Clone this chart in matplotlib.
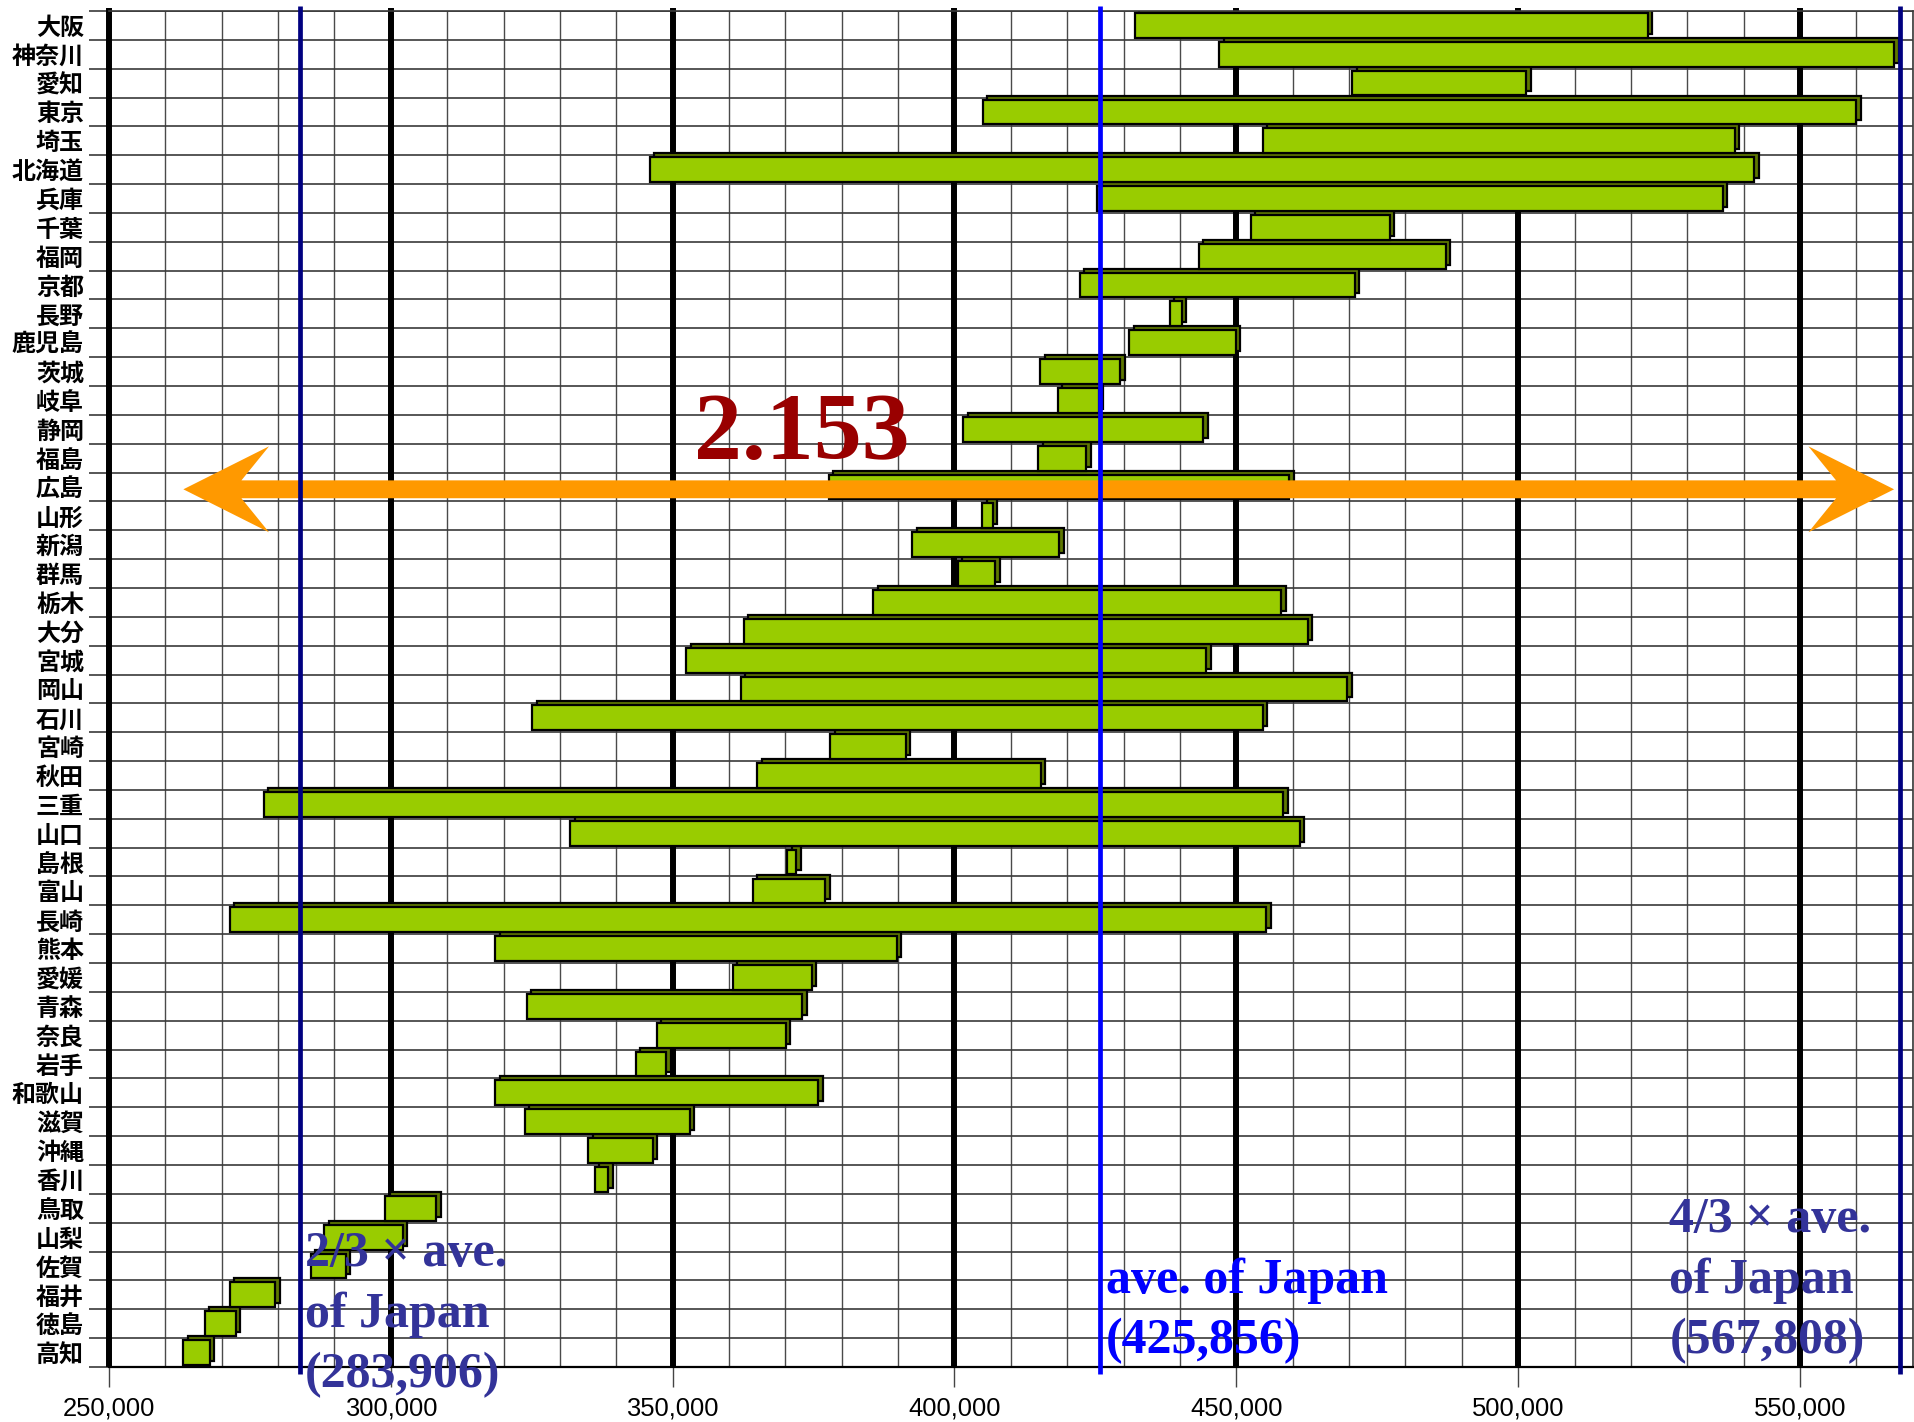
import numpy as np
import matplotlib
matplotlib.use("Agg")
from matplotlib import pyplot as plt
from matplotlib.patches import Polygon
from matplotlib.ticker import MultipleLocator, NullFormatter
from matplotlib.transforms import ScaledTranslation, blended_transform_factory

plt.rcParams["font.family"] = ["Noto Sans CJK JP", "DejaVu Sans"]

# Prefectures from top to bottom, with the low / high end of each range (yen).
prefectures = [
    "大阪", "神奈川", "愛知", "東京", "埼玉", "北海道", "兵庫", "千葉", "福岡", "京都",
    "長野", "鹿児島", "茨城", "岐阜", "静岡", "福島", "広島", "山形", "新潟", "群馬",
    "栃木", "大分", "宮城", "岡山", "石川", "宮崎", "秋田", "三重", "山口", "島根",
    "富山", "長崎", "熊本", "愛媛", "青森", "奈良", "岩手", "和歌山", "滋賀", "沖縄",
    "香川", "鳥取", "山梨", "佐賀", "福井", "徳島", "高知",
]
low = [
    432000, 447000, 470600, 405000, 454700, 345900, 425300, 452600, 443300, 422200,
    438200, 431000, 415200, 418300, 401600, 414900, 377700, 404900, 392500, 400600,
    385600, 362600, 352400, 362100, 325100, 378000, 365000, 277500, 331800, 370300,
    364200, 271400, 318500, 360700, 324100, 347200, 343500, 318500, 323800, 335000,
    336200, 299000, 288200, 285800, 271400, 267000, 263200,
]
high = [
    523000, 566700, 501400, 560000, 538400, 541900, 536300, 477200, 487200, 471000,
    440300, 449900, 429400, 425600, 444100, 423400, 459400, 406800, 418600, 407200,
    458000, 462700, 444700, 469700, 454700, 391400, 415300, 458300, 461300, 371900,
    377100, 455300, 389800, 374700, 373000, 370100, 348900, 375800, 353000, 346500,
    338600, 308100, 302100, 292000, 279500, 272500, 267900,
]

ave_japan = 425856
ave_two_thirds = 283906
ave_four_thirds = 567808

x_ticks = [250000, 300000, 350000, 400000, 450000, 500000, 550000]

FACE = "#99cc00"
DEPTH = "#5e7800"
NAVY = "#000080"
SLATE = "#333399"

fig = plt.figure(figsize=(19.15, 14.22), dpi=100)
ax = fig.add_axes([0.0569, 0.0387, 0.9419, 0.9536])

low = np.array(low)
high = np.array(high)
y = np.arange(len(prefectures))

# Bars with a small extruded edge drawn behind them.
depth = ScaledTranslation(0.045, 0.04, fig.dpi_scale_trans)
back = ax.barh(y, high - low, left=low, height=0.86, color=DEPTH,
               edgecolor="black", linewidth=1.6, zorder=2)
for patch in back:
    patch.set_transform(ax.transData + depth)
ax.barh(y, high - low, left=low, height=0.86, color=FACE,
        edgecolor="black", linewidth=1.6, zorder=3)

ax.set_xlim(250000, 570000)
ax.set_ylim(len(prefectures) - 0.5, -0.5)

# Grid: thin lines every 10,000 and at every row boundary, heavy lines every 50,000.
ax.set_xticks(x_ticks, labels=[f"{v:,}" for v in x_ticks])
ax.xaxis.set_minor_locator(MultipleLocator(10000))
ax.set_yticks(np.arange(-0.5, len(prefectures)))
ax.yaxis.set_major_formatter(NullFormatter())
ax.set_yticks(y, labels=prefectures, minor=True)
ax.grid(axis="x", which="minor", color="#4a4a4a", linewidth=1.0, zorder=0)
ax.grid(axis="y", which="major", color="#3a3a3a", linewidth=1.2, zorder=0)
ax.set_axisbelow(True)
ax.vlines(x_ticks, -0.6, len(prefectures) - 0.5, color="black", linewidth=4.3,
          zorder=1, clip_on=False)

ax.tick_params(axis="x", which="major", length=14.4, width=1.0, color="#444444",
               labelsize=18.4, pad=7)
ax.tick_params(axis="x", which="minor", length=0)
ax.tick_params(axis="y", which="major", length=14.4, width=1.2, color="#3a3a3a")
ax.tick_params(axis="y", which="minor", length=0, pad=18, labelsize=17.3)
for lbl in ax.get_xticklabels():
    lbl.set_fontfamily("Liberation Sans")
for lbl in ax.get_yticklabels(minor=True):
    lbl.set_fontweight("bold")

for side in ("top", "right"):
    ax.spines[side].set_color("#3a3a3a")
    ax.spines[side].set_linewidth(1.2)
ax.spines["bottom"].set_linewidth(1.6)
ax.spines["left"].set_visible(False)

# Double arrow spanning the lowest to the highest value.
x_min, x_max = low.min(), high.max()
yc = prefectures.index("広島") + 0.08
head_len, notch, head_half, shaft_half = 15200, 10300, 1.49, 0.31
arrow = Polygon([
    (x_min, yc),
    (x_min + head_len, yc - head_half),
    (x_min + notch, yc - shaft_half),
    (x_max - notch, yc - shaft_half),
    (x_max - head_len, yc - head_half),
    (x_max, yc),
    (x_max - head_len, yc + head_half),
    (x_max - notch, yc + shaft_half),
    (x_min + notch, yc + shaft_half),
    (x_min + head_len, yc + head_half),
], closed=True, facecolor="#ff9900", edgecolor="none", zorder=4, clip_on=False)
ax.add_patch(arrow)

ax.text(373000, 15.04, f"{x_max / x_min:.3f}", fontsize=69, color="#990000",
        fontweight="bold", family="Liberation Serif", ha="center", va="baseline",
        zorder=6)

# Reference lines for the national average and 2/3, 4/3 of it.
for value, color in ((ave_two_thirds, NAVY), (ave_japan, "#0000ff"),
                     (ave_four_thirds, NAVY)):
    ax.vlines(value, -0.67, len(prefectures) - 0.26, color=color, linewidth=3.4,
              zorder=5, clip_on=False)

blend = blended_transform_factory(ax.transData, ax.transAxes)


def shifted(px):
    return blend + ScaledTranslation(px / 100, 0, fig.dpi_scale_trans)


# va="baseline" anchors the last line of each block.
label_style = dict(fontsize=36, fontweight="bold", va="baseline", ha="left",
                   family=["Liberation Serif", "Noto Sans CJK JP"],
                   linespacing=1.4, zorder=6)
ax.text(ave_two_thirds, -0.0147, f"2/3 × ave.\nof Japan\n({ave_two_thirds:,})",
        transform=shifted(5), color=SLATE, **label_style)
ax.text(ave_japan, 0.0100, f"ave. of Japan\n({ave_japan:,})",
        transform=shifted(6), color="#0000ff", **label_style)
ax.text(ave_four_thirds, 0.0100, f"4/3 × ave.\nof Japan\n({ave_four_thirds:,})",
        transform=shifted(-231), color=SLATE, **label_style)

fig.savefig("out.png", dpi=100)
